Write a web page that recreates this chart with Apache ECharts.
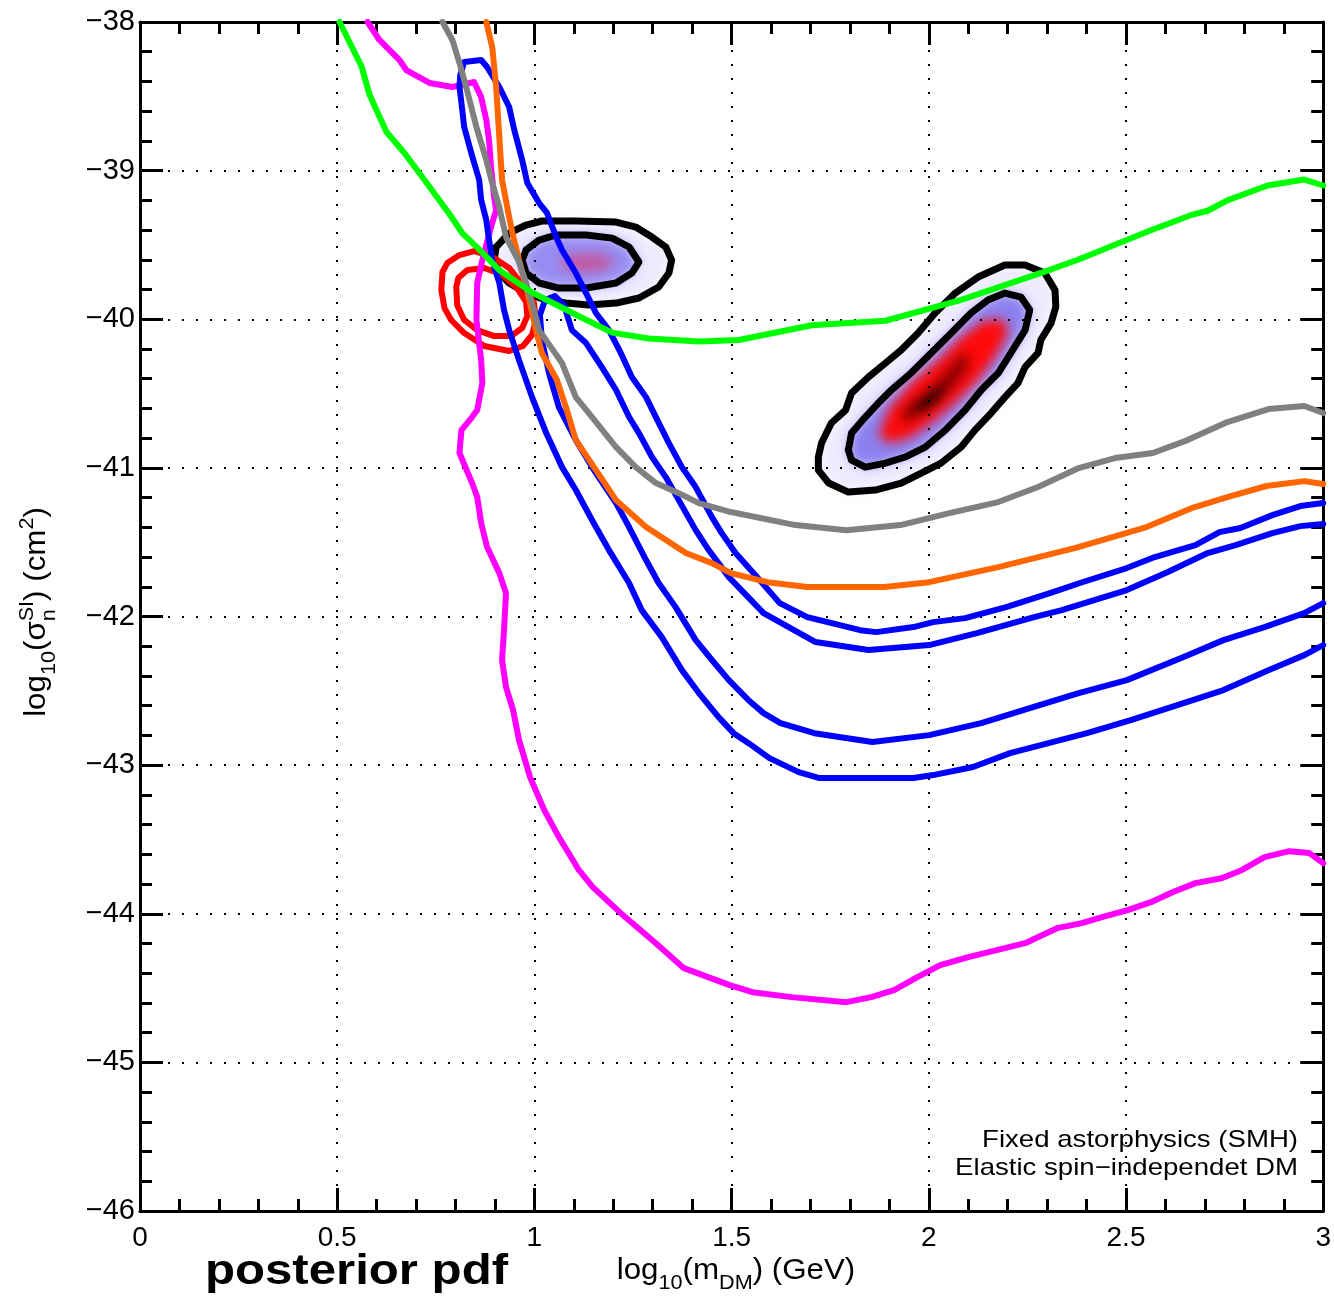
<!DOCTYPE html>
<html>
<head>
<meta charset="utf-8">
<script src="https://cdn.jsdelivr.net/npm/echarts/dist/echarts.min.js"></script>
<style>
  html, body { margin: 0; padding: 0; background: #fff; }
  #chart { width: 1334px; height: 1300px; background: #fff; }
</style>
</head>
<body>
<div id="chart"></div>
<script>
// ---- axis ranges -------------------------------------------------------
const xRange = [0, 3];          // log10(m_DM / GeV)
const yRange = [-46, -38];      // log10(sigma_n^SI / cm^2)
const xStep = 0.5;
const yStep = 1;

// ---- exclusion limits: [log10 m, log10 sigma] ---------------------------
const limitGreen = [[0.506,-38.00],[0.562,-38.30],[0.582,-38.49],[0.625,-38.74],[0.670,-38.88],[0.726,-39.08],[0.784,-39.29],[0.817,-39.42],[0.860,-39.53],[0.911,-39.67],[0.994,-39.82],[1.113,-39.98],[1.197,-40.09],[1.290,-40.13],[1.417,-40.15],[1.518,-40.14],[1.703,-40.04],[1.890,-40.01],[2.082,-39.87],[2.294,-39.68],[2.378,-39.60],[2.555,-39.41],[2.664,-39.30],[2.707,-39.27],[2.757,-39.20],[2.859,-39.10],[2.952,-39.06],[3.0,-39.10]];

const limitMagenta = [[0.577,-38.000],[0.607,-38.121],[0.658,-38.256],[0.675,-38.323],[0.734,-38.410],[0.792,-38.437],[0.847,-38.404],[0.865,-38.505],[0.878,-38.659],[0.885,-38.794],[0.890,-38.976],[0.898,-39.178],[0.903,-39.265],[0.890,-39.380],[0.868,-39.602],[0.855,-39.756],[0.853,-40.005],[0.865,-40.275],[0.868,-40.429],[0.855,-40.611],[0.842,-40.658],[0.815,-40.746],[0.810,-40.900],[0.842,-41.102],[0.855,-41.196],[0.865,-41.371],[0.880,-41.533],[0.911,-41.708],[0.928,-41.843],[0.923,-42.091],[0.918,-42.293],[0.928,-42.475],[0.946,-42.630],[0.961,-42.832],[0.989,-43.081],[1.025,-43.303],[1.062,-43.484],[1.113,-43.707],[1.148,-43.821],[1.219,-43.996],[1.308,-44.198],[1.379,-44.366],[1.495,-44.480],[1.553,-44.528],[1.652,-44.561],[1.791,-44.595],[1.854,-44.561],[1.912,-44.514],[1.971,-44.427],[2.029,-44.346],[2.100,-44.292],[2.244,-44.198],[2.325,-44.097],[2.388,-44.063],[2.439,-44.023],[2.504,-43.976],[2.563,-43.922],[2.618,-43.855],[2.676,-43.794],[2.742,-43.761],[2.793,-43.707],[2.851,-43.619],[2.914,-43.579],[2.965,-43.592],[3.0,-43.659]];

const limitGray = [[0.767,-38.000],[0.792,-38.121],[0.810,-38.276],[0.827,-38.437],[0.853,-38.707],[0.878,-38.929],[0.893,-39.083],[0.911,-39.245],[0.928,-39.447],[0.959,-39.602],[0.979,-39.756],[0.999,-39.938],[1.012,-40.073],[1.070,-40.295],[1.105,-40.524],[1.138,-40.631],[1.207,-40.860],[1.257,-40.995],[1.308,-41.102],[1.366,-41.170],[1.417,-41.237],[1.498,-41.297],[1.662,-41.385],[1.791,-41.419],[1.928,-41.385],[2.052,-41.304],[2.176,-41.230],[2.277,-41.129],[2.380,-41.001],[2.472,-40.934],[2.568,-40.900],[2.656,-40.813],[2.757,-40.692],[2.861,-40.604],[2.952,-40.584],[3.0,-40.631]];

const limitOrange = [[0.878,-38.000],[0.893,-38.168],[0.903,-38.437],[0.911,-38.774],[0.918,-39.063],[0.931,-39.245],[0.944,-39.420],[0.961,-39.602],[0.987,-39.871],[1.004,-40.073],[1.019,-40.227],[1.057,-40.409],[1.080,-40.591],[1.105,-40.813],[1.156,-41.015],[1.207,-41.217],[1.283,-41.398],[1.384,-41.573],[1.450,-41.641],[1.498,-41.708],[1.591,-41.769],[1.692,-41.802],[1.887,-41.802],[2.001,-41.769],[2.176,-41.668],[2.370,-41.540],[2.552,-41.398],[2.666,-41.271],[2.757,-41.197],[2.856,-41.122],[2.952,-41.089],[3.0,-41.109]];

// ---- blue credible region (open towards heavy masses) -------------------
const blueOuter = [[3.0,-42.192],[2.952,-42.260],[2.861,-42.361],[2.747,-42.495],[2.646,-42.583],[2.512,-42.697],[2.401,-42.785],[2.206,-42.919],[2.112,-43.013],[2.011,-43.067],[1.961,-43.087],[1.723,-43.087],[1.670,-43.047],[1.596,-42.953],[1.543,-42.852],[1.505,-42.785],[1.467,-42.677],[1.417,-42.515],[1.374,-42.361],[1.323,-42.139],[1.272,-41.957],[1.240,-41.775],[1.189,-41.553],[1.146,-41.351],[1.105,-41.149],[1.070,-40.995],[1.030,-40.766],[0.994,-40.524],[0.961,-40.275],[0.936,-40.073],[0.923,-39.938],[0.911,-39.756],[0.893,-39.602],[0.885,-39.467],[0.878,-39.332],[0.865,-39.198],[0.860,-39.063],[0.840,-38.882],[0.822,-38.707],[0.815,-38.545],[0.810,-38.437],[0.812,-38.357],[0.822,-38.269],[0.865,-38.256],[0.880,-38.303],[0.911,-38.437],[0.936,-38.572],[0.949,-38.727],[0.969,-38.929],[0.982,-39.083],[1.012,-39.218],[1.032,-39.285],[1.055,-39.447],[1.070,-39.534],[1.105,-39.689],[1.131,-39.824],[1.156,-39.958],[1.189,-40.073],[1.219,-40.227],[1.247,-40.389],[1.283,-40.524],[1.308,-40.658],[1.341,-40.833],[1.374,-40.995],[1.409,-41.129],[1.450,-41.331],[1.475,-41.439],[1.510,-41.573],[1.571,-41.755],[1.622,-41.910],[1.692,-42.004],[1.826,-42.092],[1.867,-42.105],[1.961,-42.071],[2.011,-42.038],[2.092,-42.011],[2.196,-41.937],[2.307,-41.843],[2.391,-41.768],[2.502,-41.674],[2.573,-41.600],[2.676,-41.520],[2.737,-41.432],[2.790,-41.405],[2.871,-41.318],[2.942,-41.257],[3.0,-41.237]];

const blueInner = [[3.0,-41.910],[2.952,-41.977],[2.851,-42.071],[2.747,-42.159],[2.646,-42.273],[2.502,-42.428],[2.380,-42.515],[2.256,-42.616],[2.133,-42.717],[2.001,-42.798],[1.857,-42.845],[1.710,-42.785],[1.624,-42.717],[1.581,-42.650],[1.543,-42.563],[1.493,-42.428],[1.450,-42.293],[1.409,-42.159],[1.358,-41.937],[1.315,-41.775],[1.283,-41.620],[1.240,-41.398],[1.207,-41.237],[1.156,-41.035],[1.105,-40.813],[1.062,-40.591],[1.037,-40.362],[1.019,-40.140],[1.014,-39.972],[1.027,-39.871],[1.052,-39.844],[1.075,-39.904],[1.095,-40.073],[1.131,-40.160],[1.171,-40.322],[1.207,-40.476],[1.240,-40.658],[1.265,-40.766],[1.298,-40.927],[1.333,-41.062],[1.366,-41.217],[1.409,-41.419],[1.442,-41.553],[1.493,-41.735],[1.581,-41.977],[1.713,-42.172],[1.847,-42.226],[2.001,-42.192],[2.122,-42.112],[2.267,-42.004],[2.337,-41.957],[2.502,-41.822],[2.606,-41.701],[2.707,-41.573],[2.778,-41.520],[2.871,-41.439],[2.942,-41.392],[3.0,-41.378]];

// ---- red credible region (closed) ---------------------------------------
const redOuter = [[0.767,-39.682],[0.764,-39.804],[0.772,-39.925],[0.789,-40.005],[0.822,-40.093],[0.873,-40.180],[0.936,-40.214],[0.971,-40.180],[0.994,-40.106],[1.004,-40.005],[0.999,-39.891],[0.974,-39.783],[0.936,-39.655],[0.890,-39.575],[0.847,-39.541],[0.810,-39.568],[0.779,-39.622]];
const redInner = [[0.802,-39.783],[0.804,-39.904],[0.822,-40.005],[0.855,-40.073],[0.898,-40.113],[0.941,-40.113],[0.969,-40.059],[0.982,-39.978],[0.979,-39.884],[0.956,-39.790],[0.916,-39.696],[0.873,-39.655],[0.830,-39.669],[0.807,-39.723]];

// ---- posterior pdf, light-mass mode ------------------------------------
const lightOuter = [[0.903,-39.514],[0.936,-39.420],[0.979,-39.366],[1.019,-39.339],[1.105,-39.339],[1.207,-39.346],[1.257,-39.380],[1.298,-39.447],[1.333,-39.514],[1.348,-39.602],[1.341,-39.689],[1.315,-39.783],[1.265,-39.857],[1.207,-39.891],[1.138,-39.904],[1.080,-39.891],[1.030,-39.871],[0.979,-39.824],[0.936,-39.756],[0.911,-39.689],[0.898,-39.602]];
const lightInner = [[0.979,-39.534],[1.012,-39.467],[1.055,-39.433],[1.131,-39.433],[1.197,-39.454],[1.240,-39.514],[1.265,-39.615],[1.247,-39.689],[1.207,-39.756],[1.131,-39.790],[1.062,-39.790],[1.012,-39.756],[0.979,-39.689],[0.969,-39.602]];
const lightCore = [[1.062,-39.615],[1.088,-39.568],[1.138,-39.554],[1.189,-39.575],[1.202,-39.622],[1.176,-39.669],[1.126,-39.682],[1.080,-39.662]];

// ---- posterior pdf, heavy-mass mode ------------------------------------
const heavyOuter = [[1.720,-40.927],[1.728,-40.833],[1.753,-40.698],[1.789,-40.611],[1.804,-40.497],[1.847,-40.389],[1.890,-40.295],[1.930,-40.207],[1.973,-40.093],[2.016,-39.958],[2.067,-39.824],[2.125,-39.716],[2.193,-39.635],[2.244,-39.635],[2.294,-39.689],[2.320,-39.804],[2.322,-39.918],[2.310,-40.026],[2.284,-40.140],[2.277,-40.227],[2.244,-40.322],[2.226,-40.429],[2.193,-40.524],[2.158,-40.631],[2.117,-40.746],[2.082,-40.860],[2.031,-40.968],[1.981,-41.035],[1.930,-41.102],[1.864,-41.149],[1.796,-41.163],[1.746,-41.102],[1.720,-41.015]];
const heavyInner = [[1.796,-40.880],[1.804,-40.766],[1.839,-40.658],[1.872,-40.564],[1.905,-40.476],[1.955,-40.362],[2.006,-40.227],[2.057,-40.093],[2.107,-39.958],[2.150,-39.871],[2.193,-39.824],[2.234,-39.851],[2.256,-39.938],[2.244,-40.073],[2.208,-40.227],[2.176,-40.362],[2.133,-40.476],[2.092,-40.611],[2.042,-40.746],[1.991,-40.860],[1.940,-40.927],[1.890,-40.968],[1.839,-40.995],[1.804,-40.948]];
const heavyRed = [[1.872,-40.793],[1.897,-40.611],[1.955,-40.429],[2.024,-40.275],[2.082,-40.120],[2.143,-40.005],[2.193,-40.005],[2.201,-40.093],[2.168,-40.254],[2.125,-40.409],[2.074,-40.544],[2.016,-40.678],[1.955,-40.793],[1.905,-40.833]];
const heavyDark = [[1.930,-40.698],[1.940,-40.591],[1.999,-40.476],[2.042,-40.362],[2.074,-40.254],[2.100,-40.227],[2.100,-40.322],[2.057,-40.476],[2.006,-40.591],[1.955,-40.678]];
const heavyPeak = [[1.961,-40.611],[1.999,-40.510],[2.036,-40.443],[2.029,-40.530],[1.986,-40.624]];

// ---- texts ---------------------------------------------------------------
const noteLines = ['Fixed astorphysics (SMH)', 'Elastic spin\u2212independet DM'];
const panelTag = 'posterior pdf';

// -------------------------------------------------------------------------
const FONT = '"Liberation Sans", Arial, Helvetica, sans-serif';
const closed = pts => pts.concat([pts[0]]);

const measureCtx = document.createElement('canvas').getContext('2d');
function textWidth(t, size) {
  measureCtx.font = size + 'px ' + FONT;
  return measureCtx.measureText(t).width;
}

// Lay out a formula from pieces (sub/superscripts shift by dy); an array
// entry stacks its pieces at the same horizontal position.
function formula(parts) {
  const kids = [];
  let x = 0;
  parts.forEach(p => {
    const group = Array.isArray(p) ? p : [p];
    let adv = 0;
    group.forEach(q => {
      kids.push({
        type: 'text', zlevel: 1, z: 10, x: x, y: (q.dy || 0) - 0.34 * q.s,
        style: { text: q.t, font: q.s + 'px ' + FONT, fill: '#000', align: 'left', verticalAlign: 'middle' }
      });
      adv = Math.max(adv, textWidth(q.t, q.s));
    });
    x += adv;
  });
  kids.forEach(k => { k.x -= x / 2; });
  return kids;
}

// Density fills live on their own canvas layer (zlevel 0), which is
// softened afterwards so the nested levels blend into a smooth pdf.
function fillSeries(points, fill) {
  return {
    type: 'custom', coordinateSystem: 'cartesian2d', xAxisIndex: 0, yAxisIndex: 0,
    silent: true, clip: true, zlevel: 0, z: 0, data: [points[0]],
    renderItem: (params, api) => ({
      type: 'polygon',
      shape: { points: points.map(p => api.coord(p)) },
      style: { fill: fill }
    })
  };
}

function lineSeries(points, color, width, z) {
  return {
    type: 'line', xAxisIndex: 0, yAxisIndex: 0, data: points,
    showSymbol: false, symbol: 'none', silent: true, clip: true, zlevel: 1, z: z,
    lineStyle: { color: color, width: width, cap: 'round', join: 'round' }
  };
}

function makeXAxis(pos) {
  const main = pos === 'bottom';
  return {
    type: 'value', position: pos, min: xRange[0], max: xRange[1], interval: xStep, zlevel: 1, z: 1,
    axisLine: { show: true, onZero: false, lineStyle: { color: '#000', width: 3 } },
    axisTick: { show: true, inside: true, length: 23, lineStyle: { color: '#000', width: 3 } },
    minorTick: { show: true, splitNumber: 5, length: 12, lineStyle: { color: '#000', width: 3 } },
    axisLabel: { show: main, margin: 13, color: '#000', fontSize: 28, fontFamily: FONT,
                 formatter: v => String(v) },
    splitLine: { show: main, lineStyle: { color: '#000', width: 2, type: [2, 12] } },
    minorSplitLine: { show: false }
  };
}
function makeYAxis(pos) {
  const main = pos === 'left';
  return {
    type: 'value', position: pos, min: yRange[0], max: yRange[1], interval: yStep, zlevel: 1, z: 1,
    axisLine: { show: true, onZero: false, lineStyle: { color: '#000', width: 3 } },
    axisTick: { show: true, inside: true, length: 23, lineStyle: { color: '#000', width: 3 } },
    minorTick: { show: true, splitNumber: 5, length: 12, lineStyle: { color: '#000', width: 3 } },
    axisLabel: { show: main, margin: 5, color: '#000', fontSize: 29, fontFamily: FONT,
                 formatter: v => String(v).replace('-', '\u2212') },
    splitLine: { show: main, lineStyle: { color: '#000', width: 2, type: [2, 12] } },
    minorSplitLine: { show: false }
  };
}

const SUB = 9, SUP = -13, MAIN = 29, SMALL = 20;
const xTitle = formula([
  { t: 'log', s: MAIN }, { t: '10', s: SMALL, dy: SUB }, { t: '(m', s: MAIN },
  { t: 'DM', s: SMALL, dy: SUB }, { t: ') (GeV)', s: MAIN }
]);
const yTitle = formula([
  { t: 'log', s: MAIN }, { t: '10', s: SMALL, dy: SUB }, { t: '(\u03c3', s: MAIN },
  [{ t: 'n', s: SMALL, dy: SUB }, { t: 'SI', s: SMALL, dy: SUP }],
  { t: ') (cm', s: MAIN }, { t: '2', s: SMALL, dy: SUP }, { t: ')', s: MAIN }
]);

const chart = echarts.init(document.getElementById('chart'), null, { renderer: 'canvas' });
chart.setOption({
  animation: false,
  backgroundColor: 'transparent',
  grid: { left: 140, top: 22, width: 1186, height: 1189, show: false },
  xAxis: [makeXAxis('bottom'), makeXAxis('top')],
  yAxis: [makeYAxis('left'), makeYAxis('right')],
  series: [
    // light-mass posterior mode
    fillSeries(lightOuter, '#eeebff'),
    fillSeries(lightInner, '#978cf2'),
    fillSeries(lightCore, '#c4589e'),
    // heavy-mass posterior mode
    fillSeries(heavyOuter, '#eeebff'),
    fillSeries(heavyInner, '#8b80f0'),
    fillSeries(heavyRed, '#ff0a0a'),
    fillSeries(heavyDark, '#8a0000'),
    fillSeries(heavyPeak, '#140000'),
    // contour lines of the posterior
    lineSeries(closed(lightOuter), '#000', 7, 2),
    lineSeries(closed(lightInner), '#000', 7, 2),
    lineSeries(closed(heavyOuter), '#000', 7, 2),
    lineSeries(closed(heavyInner), '#000', 7, 2),
    // red region
    lineSeries(closed(redOuter), '#ff0000', 6, 3),
    lineSeries(closed(redInner), '#ff0000', 6, 3),
    // limits and blue region
    lineSeries(limitMagenta, '#ff00ff', 6, 4),
    lineSeries(blueOuter, '#0000ff', 6, 5),
    lineSeries(blueInner, '#0000ff', 6, 5),
    lineSeries(limitOrange, '#ff6600', 6, 6),
    lineSeries(limitGray, '#808080', 6, 7),
    lineSeries(limitGreen, '#00ff00', 6, 8)
  ],
  graphic: [
    { type: 'group', zlevel: 1, z: 10, x: 736, y: 1281, scaleX: 1.08, children: xTitle },
    { type: 'group', zlevel: 1, z: 10, x: 47, y: 612, rotation: Math.PI / 2, scaleX: 1.08, children: yTitle },
    { type: 'text', zlevel: 1, z: 10, x: 205, y: 1287 - 0.34 * 42, scaleX: 1.17,
      style: { text: panelTag, font: 'bold 42px ' + FONT, fill: '#000', align: 'left', verticalAlign: 'middle' } },
    { type: 'text', zlevel: 1, z: 10, x: 1298, y: 1140, scaleX: 1.15,
      style: { text: noteLines[0], font: '24px ' + FONT, fill: '#000', align: 'right', verticalAlign: 'middle' } },
    { type: 'text', zlevel: 1, z: 10, x: 1298, y: 1168, scaleX: 1.15,
      style: { text: noteLines[1], font: '24px ' + FONT, fill: '#000', align: 'right', verticalAlign: 'middle' } }
  ]
});

// soften the density layer
const densityLayer = document.querySelector('#chart canvas[data-zr-dom-id="zr_0"]');
if (densityLayer) densityLayer.style.filter = 'blur(6px)';
</script>
</body>
</html>
